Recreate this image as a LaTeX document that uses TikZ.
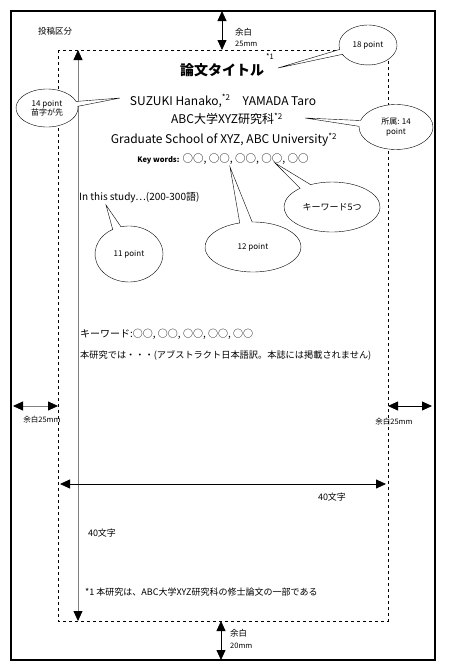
\documentclass[tikz,border=0pt]{standalone}
\usepackage{fontspec}
\setmainfont{Noto Sans CJK JP}
\usetikzlibrary{arrows.meta,shapes.callouts}
\tikzset{
  bubble/.style={ellipse callout, draw, fill=white, inner sep=0pt, align=center,
    font=\fontsize{8}{9.5}\selectfont},
  dimarrow/.style={{Triangle[length=10pt,width=9pt,color=black]}-{Triangle[length=10pt,width=9pt,color=black]}, line width=0.8pt},
  smalltxt/.style={inner sep=0pt, font=\fontsize{7.5}{9}\selectfont},
  bodytxt/.style={inner sep=0pt, font=\fontsize{9}{10}\selectfont},
  headtxt/.style={inner sep=0pt, font=\fontsize{12}{14}\selectfont}
}
\begin{document}
\begin{tikzpicture}[x=1pt,y=-1pt]
    \useasboundingbox (0,0) rectangle (449,667);
    % page and text area
    \draw[line width=2pt] (11,11) rectangle (435,660);
    \draw[dashed] (58,50) rectangle (388,621);
    % arrow end points
    \coordinate (pgtop) at (222,11);
    \coordinate (areatop) at (222,50);
    \coordinate (areabot) at (221,621);
    \coordinate (pgbot) at (221,660);
    \coordinate (pgleft) at (13,406);
    \coordinate (arealeft) at (58,406);
    \coordinate (arearight) at (388,406);
    \coordinate (pgright) at (432,406);
    \coordinate (coltop) at (78,50);
    \coordinate (colbot) at (78,621);
    \coordinate (rowleft) at (60,484);
    \coordinate (rowright) at (386,484);
    % margins and text size
    \draw[dimarrow] (pgtop) -- (areatop);
    \draw[dimarrow] (areabot) -- (pgbot);
    \draw[dimarrow, draw=gray] (pgleft) -- (arealeft);
    \draw[dimarrow] (arearight) -- (pgright);
    \draw[dimarrow, draw=gray] (coltop) -- (colbot);
    \draw[dimarrow] (rowleft) -- (rowright);
    \node[bodytxt, font=\fontsize{8.5}{10}\selectfont] (kubun) at (55,31) {投稿区分};
    \node[smalltxt, anchor=west, font=\fontsize{8.5}{10}\selectfont] (topmarg) at (235,32) {余白};
    \node[smalltxt, anchor=west] (topmm) at (235,44) {25mm};
    \node[smalltxt, anchor=west, font=\fontsize{8.5}{10}\selectfont] (botmarg) at (230,633) {余白};
    \node[smalltxt, anchor=west] (botmm) at (230,646) {20mm};
    \node[smalltxt] (leftmarg) at (42,420) {余白25mm};
    \node[smalltxt] (rightmarg) at (394,422) {余白25mm};
    \node[bodytxt] (rowchars) at (332,497) {40文字};
    \node[bodytxt] (colchars) at (102,533) {40文字};
    % header
    \node[inner sep=0pt, font=\fontsize{14}{16}\bfseries] (title) at (222,70) {論文タイトル};
    \node[smalltxt, anchor=west] (titlenote) at (266,57) {*1};
    \node[headtxt] (authors) at (223,101) {SUZUKI Hanako,\textsuperscript{*2}\quad YAMADA Taro};
    \node[headtxt] (affil) at (227,119) {ABC大学XYZ研究科\textsuperscript{*2}};
    \node[headtxt] (affilen) at (224,140) {Graduate School of XYZ, ABC University\textsuperscript{*2}};
    \node[inner sep=0pt, font=\fontsize{10.5}{12}\selectfont] (kw) at (223,159) {{\fontsize{7.5}{8}\bfseries Key words:} ○○, ○○, ○○, ○○, ○○};
    \node[bodytxt, anchor=west, font=\fontsize{10}{11}\selectfont] (study) at (79,198) {In this study…(200-300語)};
    \node[bodytxt, anchor=west, font=\fontsize{10}{11}\selectfont] (kwjp) at (80,334) {キーワード:○○, ○○, ○○, ○○, ○○};
    \node[bodytxt, anchor=west, font=\fontsize{9.2}{10}\selectfont] (abstjp) at (80,355) {本研究では・・・(アブストラクト日本語訳。本誌には掲載されません)};
    \node[smalltxt, anchor=west, font=\fontsize{9}{10}\selectfont] (fnote) at (85,592) {*1 本研究は、ABC大学XYZ研究科の修士論文の一部である};
    % callouts
    \coordinate (ptitle) at (278,68);
    \coordinate (pauth) at (120,98);
    \coordinate (paffil) at (305,118);
    \coordinate (pkw) at (275,163);
    \coordinate (pkwsize) at (230,167);
    \coordinate (pstudy) at (106,205);
    \node[bubble, minimum width=58pt, minimum height=40pt, callout absolute pointer={(ptitle)}] (c18) at (368,45) {18 point};
    \node[bubble, minimum width=62pt, minimum height=38pt, callout absolute pointer={(pauth)}] (c14) at (47,108) {14 point\\苗字が先};
    \node[bubble, minimum width=74pt, minimum height=45pt, callout absolute pointer={(paffil)}] (caff) at (396,127) {所属: 14\\point};
    \node[bubble, minimum width=96pt, minimum height=50pt, callout absolute pointer={(pkw)}, font=\fontsize{9}{10}\selectfont] (ckw) at (332,207) {キーワード5つ};
    \node[bubble, minimum width=96pt, minimum height=50pt, callout absolute pointer={(pkwsize)}] (c12) at (253,247) {12 point};
    \node[bubble, minimum width=68pt, minimum height=56pt, callout absolute pointer={(pstudy)}] (c11) at (129,254) {11 point};
\end{tikzpicture}
\end{document}
